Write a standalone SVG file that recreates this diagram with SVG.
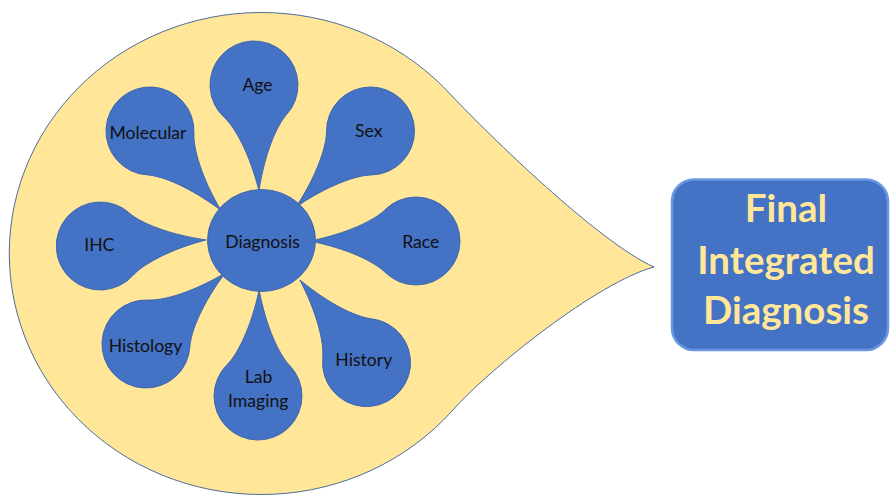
<svg xmlns="http://www.w3.org/2000/svg" width="890" height="496" viewBox="0 0 890 496">
  <style>
    .petal { fill: #4472C4; stroke: #3A63AA; stroke-width: 0.9; }
    .lbl { font-family: Lato, "Liberation Sans", sans-serif; font-size: 17.6px; fill: #111111; text-anchor: middle; }
    .big { fill: #FFE699; stroke: #4C6E9C; stroke-width: 1; }
    .final { font-family: Lato, "Liberation Sans", sans-serif; font-weight: bold; font-size: 38.5px; fill: #FFE699; text-anchor: middle; }
  </style>
  <defs>
    <path id="petal" d="M 31.1,-31.1 C 42,-20.5 69,-7.5 106,0 C 69,7.5 42,20.5 31.1,31.1 A 44 44 0 1 1 31.1,-31.1 Z"/>
  </defs>
  <rect width="890" height="496" fill="#FFFFFF"/>
  <g id="container">
    <path class="big" d="M 452,96 C 488,134 598,242 654,267 C 598,282 490,368 452,411 A 252 241 0 1 1 452,96 Z"/>
  </g>
  <g id="connectors"/>
  <g id="age">
    <use href="#petal" class="petal" transform="translate(254,85) rotate(87.3)"/>
    <text class="lbl" x="257.5" y="90.5">Age</text>
  </g>
  <g id="sex">
    <use href="#petal" class="petal" transform="translate(370.5,131) rotate(134.4)"/>
    <text class="lbl" x="368.7" y="136.5">Sex</text>
  </g>
  <g id="race">
    <use href="#petal" class="petal" transform="translate(416,241) rotate(180)"/>
    <text class="lbl" x="420.8" y="247.7">Race</text>
  </g>
  <g id="history">
    <use href="#petal" class="petal" transform="translate(366.5,362.5) rotate(-128.9)"/>
    <text class="lbl" x="363.8" y="366">History</text>
  </g>
  <g id="lab-imaging">
    <use href="#petal" class="petal" transform="translate(258,396) rotate(-89.4)"/>
    <text class="lbl" x="258.5" y="382.7">Lab</text>
    <text class="lbl" x="258.2" y="406.7">Imaging</text>
  </g>
  <g id="histology">
    <use href="#petal" class="petal" transform="translate(146,344) rotate(-41.9)"/>
    <text class="lbl" x="145.5" y="351.7">Histology</text>
  </g>
  <g id="ihc">
    <use href="#petal" class="petal" transform="translate(100.3,246) rotate(-3.3)"/>
    <text class="lbl" x="99.3" y="251">IHC</text>
  </g>
  <g id="molecular">
    <use href="#petal" class="petal" transform="translate(150,131) rotate(48.2)"/>
    <text class="lbl" x="148" y="139.3">Molecular</text>
  </g>
  <g id="diagnosis">
    <ellipse class="petal" cx="261.5" cy="240.5" rx="54" ry="51"/>
    <text class="lbl" x="262.5" y="247.7">Diagnosis</text>
  </g>
  <g id="final-integrated-diagnosis">
    <rect x="672" y="179.5" width="216" height="170.5" rx="22" ry="22" fill="#4472C4" stroke="#6A98DE" stroke-width="2.5"/>
    <text class="final" x="786" y="222">Final</text>
    <text class="final" x="786" y="273.5">Integrated</text>
    <text class="final" x="786" y="324">Diagnosis</text>
  </g>
</svg>
